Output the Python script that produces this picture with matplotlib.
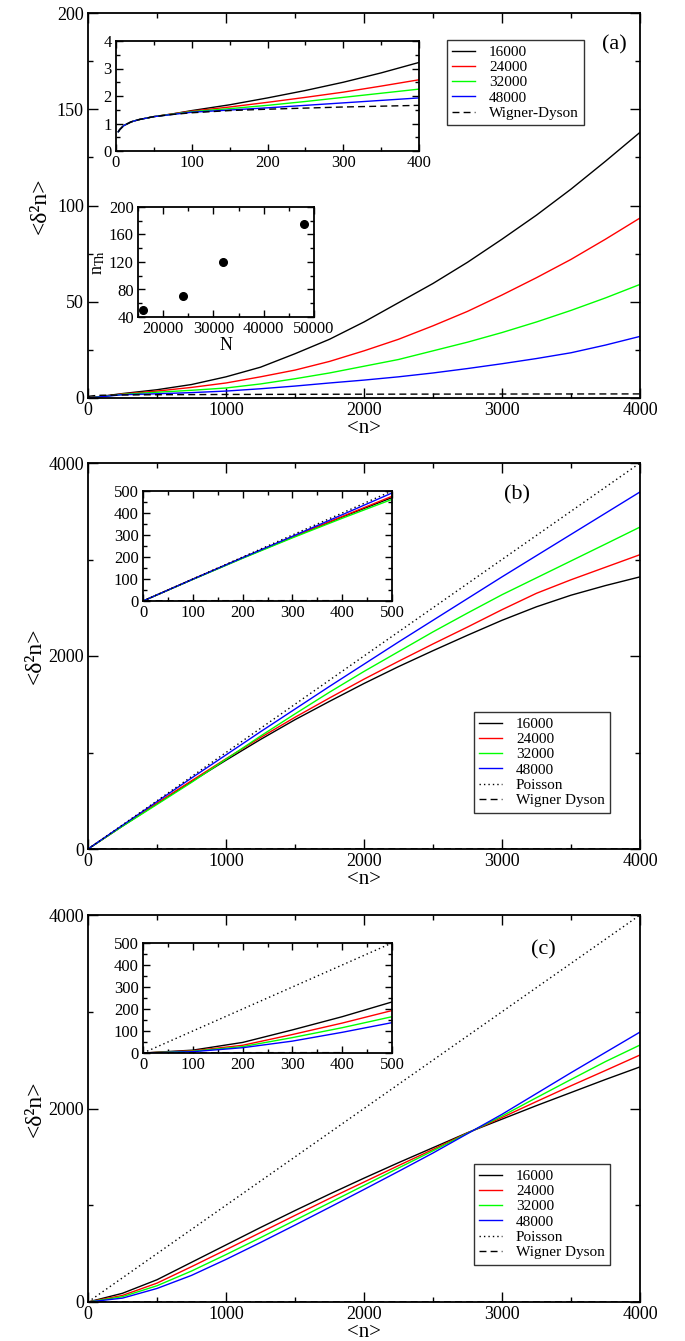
import matplotlib
matplotlib.use("Agg")
import matplotlib.pyplot as plt
from matplotlib.ticker import MultipleLocator

plt.rcParams['font.family'] = ['Liberation Serif', 'DejaVu Serif']
plt.rcParams['mathtext.fontset'] = 'stix'

W, H = 685, 1341

sizes = ["16000", "24000", "32000", "48000"]
colors = ["#000000", "#ff0000", "#00ff00", "#0000ff"]

# panel (a) main
n_a = [0, 250, 500, 750, 1000, 1250, 1500, 1750, 2000, 2250, 2500, 2750, 3000, 3250, 3500, 3750, 4000]
a_16000 = [0, 2.3, 4.3, 7.0, 11.0, 16.0, 23.0, 30.5, 39.5, 49.5, 59.5, 70.5, 82.5, 95.0, 108.5, 123.0, 138.0]
a_24000 = [0, 2.1, 3.6, 5.5, 7.8, 11.0, 14.5, 19.0, 24.5, 30.5, 37.5, 45.0, 53.5, 62.5, 72.0, 82.5, 93.5]
a_32000 = [0, 1.9, 3.0, 4.0, 5.2, 7.3, 10.0, 13.0, 16.5, 20.0, 24.5, 29.0, 34.0, 39.5, 45.5, 52.0, 59.0]
a_48000 = [0, 1.7, 2.2, 2.8, 3.6, 4.8, 6.2, 7.8, 9.3, 11.0, 13.0, 15.3, 17.8, 20.5, 23.5, 27.5, 32.0]
n_wd = [3, 10, 50, 100, 250, 500, 1000, 2000, 3000, 4000]
wd = [0.70, 0.92, 1.25, 1.43, 1.56, 1.70, 1.84, 1.98, 2.06, 2.12]

# panel (a) inset: small <n>
n_a1 = [3, 5, 10, 20, 30, 50, 75, 100, 150, 200, 250, 300, 350, 400]
a1_16000 = [0.70, 0.78, 0.92, 1.06, 1.14, 1.25, 1.35, 1.47, 1.68, 1.93, 2.20, 2.50, 2.84, 3.22]
a1_24000 = [0.70, 0.78, 0.92, 1.06, 1.14, 1.25, 1.35, 1.45, 1.60, 1.77, 1.95, 2.14, 2.36, 2.59]
a1_32000 = [0.70, 0.78, 0.92, 1.06, 1.14, 1.25, 1.34, 1.43, 1.54, 1.66, 1.80, 1.95, 2.10, 2.25]
a1_48000 = [0.70, 0.78, 0.92, 1.06, 1.14, 1.25, 1.33, 1.41, 1.49, 1.57, 1.66, 1.75, 1.84, 1.93]
n_wd1 = [3, 5, 10, 20, 30, 50, 75, 100, 150, 200, 250, 300, 350, 400]
wd1 = [0.70, 0.78, 0.92, 1.06, 1.14, 1.25, 1.33, 1.39, 1.47, 1.52, 1.56, 1.60, 1.63, 1.66]

# panel (a) inset: Thouless number vs N
N_sys = [16000, 24000, 32000, 48000]
n_th = [50, 70, 120, 175]

# panel (b)
n_b = [0, 250, 500, 750, 1000, 1250, 1500, 1750, 2000, 2250, 2500, 2750, 3000, 3250, 3500, 3750, 4000]
b_16000 = [0, 238, 470, 698, 920, 1135, 1340, 1530, 1715, 1890, 2055, 2215, 2370, 2510, 2630, 2730, 2820]
b_24000 = [0, 239, 476, 707, 935, 1155, 1365, 1565, 1760, 1945, 2125, 2300, 2480, 2650, 2790, 2920, 3050]
b_32000 = [0, 236, 462, 690, 930, 1170, 1400, 1625, 1840, 2045, 2250, 2445, 2635, 2810, 2985, 3160, 3336]
b_48000 = [0, 246, 491, 735, 975, 1215, 1450, 1685, 1915, 2145, 2370, 2595, 2820, 3040, 3260, 3480, 3700]
n_b1 = [0, 100, 200, 300, 400, 500]
b1_16000 = [0, 99, 196, 290, 382, 470]
b1_24000 = [0, 99, 196, 291, 384, 476]
b1_32000 = [0, 98, 194, 287, 376, 462]
b1_48000 = [0, 99, 197, 294, 392, 491]

# panel (c)
n_c = [0, 250, 500, 750, 1000, 1250, 1500, 1750, 2000, 2250, 2500, 2750, 3000, 3250, 3500, 3750, 4000]
c_16000 = [0, 90, 230, 410, 590, 770, 945, 1115, 1280, 1440, 1595, 1750, 1890, 2030, 2165, 2300, 2430]
c_24000 = [0, 68, 195, 365, 540, 718, 895, 1070, 1240, 1410, 1577, 1747, 1907, 2072, 2235, 2393, 2553]
c_32000 = [0, 55, 168, 320, 490, 665, 845, 1025, 1205, 1385, 1563, 1744, 1922, 2112, 2300, 2485, 2656]
c_48000 = [0, 40, 140, 275, 440, 615, 795, 978, 1163, 1350, 1540, 1740, 1940, 2155, 2370, 2580, 2790]
n_c1 = [0, 100, 200, 300, 400, 500]
c1_16000 = [0, 13, 48, 105, 165, 232]
c1_24000 = [0, 10, 35, 84, 136, 193]
c1_32000 = [0, 8, 29, 70, 115, 165]
c1_48000 = [0, 6, 24, 54, 94, 138]

poisson_n = [0, 4000]
poisson = [0, 4000]
poisson_n1 = [0, 500]
poisson1 = [0, 500]

DOT = (0, (1, 2.2))
DASH = (0, (5, 3))


def rect(l, t, r, b):
    return [l / W, 1 - b / H, (r - l) / W, (b - t) / H]


def style(ax, xmaj, xmin, ymaj, ymin, fs, big=True):
    ax.xaxis.set_major_locator(MultipleLocator(xmaj))
    ax.xaxis.set_minor_locator(MultipleLocator(xmin))
    ax.yaxis.set_major_locator(MultipleLocator(ymaj))
    ax.yaxis.set_minor_locator(MultipleLocator(ymin))
    L = 7 if big else 5
    ax.tick_params(which='major', direction='in', top=True, right=True, length=L, width=1.0, labelsize=fs, pad=3)
    ax.tick_params(which='minor', direction='in', top=True, right=True, length=L * 0.55, width=1.0)
    for s in ax.spines.values():
        s.set_linewidth(1.3)


def legend(ax, left, top):
    ax.legend(loc='upper left', bbox_to_anchor=(left / W, 1 - top / H), bbox_transform=fig.transFigure,
              fontsize=11, handlelength=1.5, labelspacing=0.1, borderpad=0.35, handletextpad=0.9,
              fancybox=False, edgecolor='#333333', framealpha=1, borderaxespad=0)


fig = plt.figure(figsize=(W / 100, H / 100), dpi=100)

# ---------------- (a)
ax = fig.add_axes(rect(88, 13, 640, 398))
for ys, c, lab in zip([a_16000, a_24000, a_32000, a_48000], colors, sizes):
    ax.plot(n_a, ys, color=c, lw=1.0, label=lab)
ax.plot(n_wd, wd, color='black', lw=1.0, ls=DASH, label='Wigner-Dyson')
ax.set_xlim(0, 4000)
ax.set_ylim(0, 200)
style(ax, 1000, 500, 50, 25, 13)
ax.set_xlabel('<n>', fontsize=15, labelpad=0)
ax.set_ylabel('<δ²n>', fontsize=17, labelpad=4)
legend(ax, 447, 40)
fig.text(614 / W, 1 - 45 / H, '(a)', fontsize=16, ha='center', va='center')

ax1 = fig.add_axes(rect(116, 41, 419, 151))
for ys, c in zip([a1_16000, a1_24000, a1_32000, a1_48000], colors):
    ax1.plot(n_a1, ys, color=c, lw=1.0)
ax1.plot(n_wd1, wd1, color='black', lw=1.0, ls=DASH)
ax1.set_xlim(0, 400)
ax1.set_ylim(0, 4)
style(ax1, 100, 50, 1, 0.5, 12, big=False)

ax2 = fig.add_axes(rect(138, 207, 314, 317))
ax2.plot(N_sys, n_th, 'o', color='black', ms=5.5)
ax2.set_xlim(15000, 50000)
ax2.set_ylim(40, 200)
style(ax2, 10000, 5000, 40, 20, 12, big=False)
ax2.set_xlabel('N', fontsize=13, labelpad=0)
ax2.set_ylabel(r'n$_{\mathrm{Th}}$', fontsize=13, labelpad=1)

# ---------------- (b) and (c)
panels = [
    ((88, 463, 640, 849), (143, 491, 392, 601),
     [b_16000, b_24000, b_32000, b_48000], n_b,
     [b1_16000, b1_24000, b1_32000, b1_48000], n_b1, '(b)', (517, 495), 712),
    ((88, 915, 640, 1302), (143, 943, 392, 1053),
     [c_16000, c_24000, c_32000, c_48000], n_c,
     [c1_16000, c1_24000, c1_32000, c1_48000], n_c1, '(c)', (543, 950), 1164),
]
for main_r, ins_r, series, nn, series1, nn1, tag, tagpos, legtop in panels:
    ax = fig.add_axes(rect(*main_r))
    for ys, c, lab in zip(series, colors, sizes):
        ax.plot(nn, ys, color=c, lw=1.0, label=lab)
    ax.plot(poisson_n, poisson, color='black', lw=1.0, ls=DOT, label='Poisson')
    ax.plot(n_wd, wd, color='black', lw=1.0, ls=DASH, label='Wigner Dyson')
    ax.set_xlim(0, 4000)
    ax.set_ylim(0, 4000)
    style(ax, 1000, 500, 2000, 1000, 13)
    ax.set_xlabel('<n>', fontsize=15, labelpad=0)
    ax.set_ylabel('<δ²n>', fontsize=17, labelpad=2)
    legend(ax, 474, legtop)
    fig.text(tagpos[0] / W, 1 - tagpos[1] / H, tag, fontsize=16, ha='center', va='center')

    axi = fig.add_axes(rect(*ins_r))
    for ys, c in zip(series1, colors):
        axi.plot(nn1, ys, color=c, lw=1.0)
    axi.plot(poisson_n1, poisson1, color='black', lw=1.0, ls=DOT)
    axi.plot(n_wd1, wd1, color='black', lw=1.0, ls=DASH)
    axi.set_xlim(0, 500)
    axi.set_ylim(0, 500)
    style(axi, 100, 50, 100, 50, 12, big=False)

fig.savefig('out.png', dpi=100)
